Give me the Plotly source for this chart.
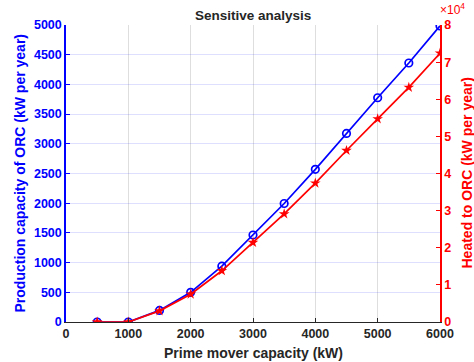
import plotly.graph_objects as go

capacity = [500, 1000, 1500, 2000, 2500, 3000, 3500, 4000, 4500, 5000, 5500, 6000]
production_orc = [0, 0, 195, 500, 940, 1465, 1995, 2570, 3175, 3775, 4360, 4985]
heated_orc = [0, 0, 3000, 7500, 13800, 21400, 29100, 37400, 46200, 54700, 63200, 72400]

right_tickvals = [0, 10000, 20000, 30000, 40000, 50000, 60000, 70000, 80000]
right_ticktext = ["0", "1", "2", "3", "4", "5", "6", "7", "8"]

BLUE = "#0000ff"
RED = "#ff0000"
DARK = "#262626"
FONT = "Liberation Sans"

fig = go.Figure()
fig.add_trace(go.Scatter(
    x=capacity, y=production_orc, mode="lines+markers",
    line=dict(color=BLUE, width=1.7),
    marker=dict(symbol="circle-open", size=7.5, color=BLUE, line=dict(width=1.7)),
    yaxis="y", showlegend=False))
fig.add_trace(go.Scatter(
    x=capacity, y=heated_orc, mode="lines+markers",
    line=dict(color=RED, width=1.7),
    marker=dict(symbol="star", size=8, color=RED),
    yaxis="y2", showlegend=False))

tickfont = dict(family=FONT, size=12.5, weight="bold")

fig.update_layout(
    width=474, height=362,
    margin=dict(l=66, r=34, t=25, b=40),
    paper_bgcolor="white", plot_bgcolor="white",
    font=dict(family=FONT),
    xaxis=dict(range=[0, 6000], tickvals=[0, 1000, 2000, 3000, 4000, 5000, 6000],
               showgrid=True, gridcolor="rgba(0,0,0,0.13)", zeroline=False,
               showline=True, linecolor=DARK, linewidth=1,
               ticks="inside", ticklen=4, tickcolor=DARK,
               tickfont=dict(color=DARK, **tickfont)),
    yaxis=dict(range=[0, 5000], tickvals=list(range(0, 5001, 500)),
               showgrid=True, gridcolor="rgba(0,0,255,0.13)", zeroline=False,
               showline=True, linecolor=BLUE, linewidth=1.5,
               ticks="inside", ticklen=4, tickcolor=BLUE,
               tickfont=dict(color=BLUE, **tickfont)),
    yaxis2=dict(range=[0, 80000], tickvals=right_tickvals, ticktext=right_ticktext,
                overlaying="y", side="right", showgrid=False, zeroline=False,
                showline=True, linecolor=RED, linewidth=1.5,
                ticks="inside", ticklen=4, tickcolor=RED,
                tickfont=dict(color=RED, **tickfont)),
    annotations=[
        dict(text="Sensitive analysis", x=0.5, y=1, xref="paper", yref="paper",
             xanchor="center", yanchor="bottom", yshift=0, showarrow=False,
             font=dict(family=FONT, size=13.5, color=DARK, weight="bold")),
        dict(text="Prime mover capacity (kW)", x=0.5, y=0, xref="paper", yref="paper",
             xanchor="center", yanchor="top", yshift=-21, showarrow=False,
             font=dict(family=FONT, size=14, color=DARK, weight="bold")),
        dict(text="Production capacity of ORC (kW per year)", x=0, y=0.5,
             xref="paper", yref="paper", xanchor="center", yanchor="middle",
             xshift=-47, textangle=-90, showarrow=False,
             font=dict(family=FONT, size=14, color=BLUE, weight="bold")),
        dict(text="Heated to ORC (kW per year)", x=1, y=0.5,
             xref="paper", yref="paper", xanchor="center", yanchor="middle",
             xshift=26, textangle=-90, showarrow=False,
             font=dict(family=FONT, size=14, color=RED, weight="bold")),
        dict(text="×10<sup>4</sup>", x=1, y=1, xref="paper", yref="paper",
             xanchor="center", yanchor="bottom", xshift=12, yshift=6, showarrow=False,
             font=dict(family=FONT, size=12, color=RED)),
    ],
)

fig.write_html("out.html")
